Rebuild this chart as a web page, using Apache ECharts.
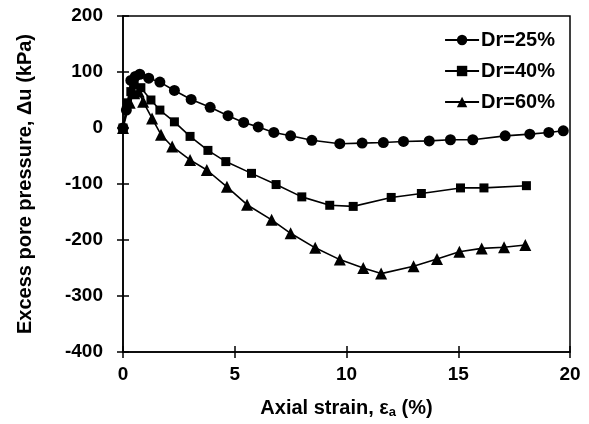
<!DOCTYPE html>
<html>
<head>
<meta charset="utf-8">
<script src="https://cdn.jsdelivr.net/npm/echarts@6/dist/echarts.min.js"></script>
<style>
  html, body { margin: 0; padding: 0; background: #fff; }
  #chart { width: 589px; height: 424px; }
</style>
</head>
<body>
<div id="chart"></div>
<script>
// data: [axial strain %, excess pore pressure kPa]
var dr25 = [[0,0],[0.15,32],[0.35,85],[0.55,92],[0.75,96],[1.15,89],[1.65,82],[2.3,67],[3.05,51],[3.9,37],[4.7,22],[5.4,10],[6.05,2],[6.75,-8],[7.5,-14],[8.45,-22],[9.7,-28],[10.7,-27],[11.65,-26],[12.55,-24],[13.7,-23],[14.65,-21],[15.65,-21],[17.1,-14],[18.2,-11],[19.05,-8],[19.7,-5]];
var dr40 = [[0,0],[0.2,45],[0.35,65],[0.5,77],[0.8,72],[1.25,50],[1.65,32],[2.3,11],[3.0,-15],[3.8,-40],[4.6,-60],[5.75,-81],[6.85,-101],[8.0,-123],[9.25,-138],[10.3,-140],[12.0,-124],[13.35,-117],[15.1,-107],[16.15,-107],[18.05,-103]];
var dr60 = [[0,0],[0.3,45],[0.5,62],[0.7,65],[0.9,47],[1.3,17],[1.7,-12],[2.2,-33],[3.0,-57],[3.75,-75],[4.65,-105],[5.55,-137],[6.65,-164],[7.5,-188],[8.6,-214],[9.7,-235],[10.75,-250],[11.55,-260],[13.0,-247],[14.05,-234],[15.05,-221],[16.05,-215],[17.05,-213],[18.0,-209]];
var seriesNames = ['Dr=25%', 'Dr=40%', 'Dr=60%'];

var font = 'Liberation Sans, Arial, sans-serif';
var myChart = echarts.init(document.getElementById('chart'));

function mkSeries(name, data, symbol, size) {
  return {
    name: name,
    type: 'line',
    data: data,
    symbol: symbol,
    symbolSize: size,
    showSymbol: true,
    itemStyle: { color: '#000' },
    lineStyle: { color: '#000', width: 1.6 },
    z: 3
  };
}

var tickStyle = { color: '#000', width: 1.5 };

var option = {
  animation: false,
  backgroundColor: '#fff',
  grid: {
    left: 123, right: 19, top: 16, bottom: 72,
    show: true, borderColor: '#000', borderWidth: 1.5, backgroundColor: 'transparent'
  },
  legend: {
    orient: 'vertical',
    right: 29, top: 25,
    itemWidth: 34, itemHeight: 13,
    itemGap: 11,
    data: seriesNames,
    textStyle: { fontFamily: font, fontWeight: 'bold', fontSize: 20, color: '#000', padding: [0, 0, 0, -3] }
  },
  xAxis: [{
    type: 'value', min: 0, max: 20, interval: 5,
    axisLine: { onZero: false, lineStyle: { color: '#000', width: 1.6 } },
    axisTick: { show: true, length: 6, lineStyle: tickStyle },
    splitLine: { show: false },
    axisLabel: { fontFamily: font, fontWeight: 'bold', fontSize: 19, color: '#000', margin: 13 },
    name: '{n|Axial strain, ε}{s|a}{n| (%)}',
    nameLocation: 'middle', nameGap: 46,
    nameTextStyle: {
      rich: {
        n: { fontFamily: font, fontWeight: 'bold', fontSize: 20, color: '#000' },
        s: { fontFamily: font, fontWeight: 'bold', fontSize: 13, color: '#000', padding: [8, 0, 0, 0] }
      }
    }
  }, {
    type: 'value', min: 0, max: 20, interval: 5, position: 'bottom',
    axisLine: { show: false, onZero: false },
    axisTick: { show: true, inside: true, length: 6, lineStyle: tickStyle },
    axisLabel: { show: false }, splitLine: { show: false }
  }],
  yAxis: [{
    type: 'value', min: -400, max: 200, interval: 100,
    axisLine: { show: true, onZero: false, lineStyle: { color: '#000', width: 1.6 } },
    axisTick: { show: true, length: 6, lineStyle: tickStyle },
    splitLine: { show: false },
    axisLabel: { fontFamily: font, fontWeight: 'bold', fontSize: 19, color: '#000', margin: 20 },
    name: 'Excess pore pressure, Δu (kPa)',
    nameLocation: 'middle', nameGap: 88, nameRotate: 90,
    nameTextStyle: { fontFamily: font, fontWeight: 'bold', fontSize: 20, color: '#000' }
  }, {
    type: 'value', min: -400, max: 200, interval: 100, position: 'left',
    axisLine: { show: false, onZero: false },
    axisTick: { show: true, inside: true, length: 6, lineStyle: tickStyle },
    axisLabel: { show: false }, splitLine: { show: false }
  }],
  series: [
    mkSeries(seriesNames[0], dr25, 'circle', 11),
    mkSeries(seriesNames[1], dr40, 'rect', 9),
    mkSeries(seriesNames[2], dr60, 'triangle', 12)
  ]
};
myChart.setOption(option);
</script>
</body>
</html>
